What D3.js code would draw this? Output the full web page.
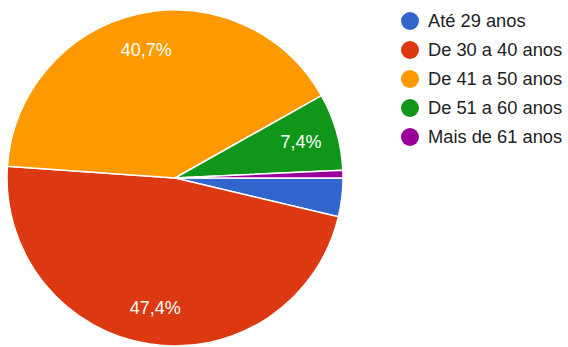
<!DOCTYPE html>
<html>
<head>
<meta charset="utf-8">
<script src="https://cdn.jsdelivr.net/npm/d3@7"></script>
<style>
  html, body { margin: 0; padding: 0; background: #ffffff; }
  svg { display: block; }
</style>
</head>
<body>
<svg id="chart" width="568" height="347"></svg>
<script>
// Age groups and respondent counts
const categories = ["Até 29 anos", "De 30 a 40 anos", "De 41 a 50 anos", "De 51 a 60 anos", "Mais de 61 anos"];
const counts = [5, 64, 55, 10, 1];
const colors = ["#3366cc", "#dc3912", "#ff9900", "#109618", "#990099"];

const W = 568, H = 347;
const cx = 175, cy = 178, radius = 168;

const svg = d3.select("#chart");
const total = d3.sum(counts);

const data = categories.map((c, i) => ({ name: c, value: counts[i], color: colors[i] }));

// Slices run clockwise from 3 o'clock
const pie = d3.pie()
  .value(d => d.value)
  .sort(null)
  .startAngle(Math.PI / 2)
  .endAngle(Math.PI / 2 + 2 * Math.PI);

const arc = d3.arc().innerRadius(0).outerRadius(radius);
const labelArc = d3.arc().innerRadius(radius * 0.78).outerRadius(radius * 0.78);

const g = svg.append("g").attr("transform", `translate(${cx},${cy})`);
const arcs = pie(data);

g.selectAll("path.slice")
  .data(arcs)
  .join("path")
  .attr("class", "slice")
  .attr("d", arc)
  .attr("fill", d => d.data.color)
  .attr("stroke", "#ffffff")
  .attr("stroke-width", 1.5);

// Percentage labels on slices wide enough to hold them
const fmt = v => (v * 100).toFixed(1).replace(".", ",") + "%";
g.selectAll("text.pct")
  .data(arcs.filter(d => d.data.value / total >= 0.05))
  .join("text")
  .attr("class", "pct")
  .attr("transform", d => `translate(${labelArc.centroid(d)})`)
  .attr("text-anchor", "middle")
  .attr("dy", "0.35em")
  .attr("fill", "#ffffff")
  .attr("font-family", "Liberation Sans, Arial, sans-serif")
  .attr("font-size", 18)
  .text(d => fmt(d.data.value / total));

// Legend
const legend = svg.append("g").attr("transform", "translate(410,21)");
const items = legend.selectAll("g.item")
  .data(data)
  .join("g")
  .attr("class", "item")
  .attr("transform", (d, i) => `translate(0,${i * 29})`);

items.append("circle")
  .attr("r", 9)
  .attr("fill", d => d.color);

items.append("text")
  .attr("x", 18)
  .attr("dy", "0.35em")
  .attr("fill", "#222222")
  .attr("font-family", "Liberation Sans, Arial, sans-serif")
  .attr("font-size", 18.3)
  .text(d => d.name);
</script>
</body>
</html>
